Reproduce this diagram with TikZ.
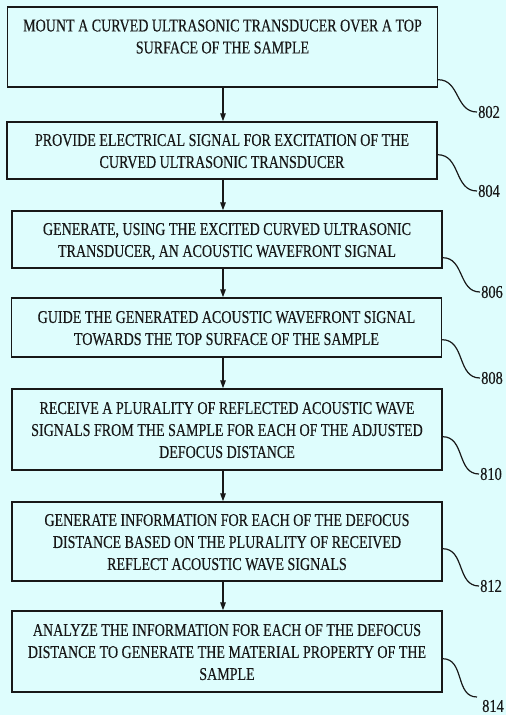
\documentclass[tikz,border=0pt]{standalone}
\usepackage{fontspec}
\setmainfont{Liberation Serif}[FakeBold=0.4]
\usepackage{graphicx}
\usepackage{tikz}
\usetikzlibrary{calc,positioning,arrows.meta}
\definecolor{bgcyan}{RGB}{222,253,253}
\definecolor{inkgray}{RGB}{24,24,24}
% narrow, centred lines as in the patent figure
\newcommand{\squeeze}[1]{\scalebox{0.78}[1]{\begin{tabular}{@{}c@{}}\rule{0pt}{19.5pt}#1\end{tabular}}}

\begin{document}
\begin{tikzpicture}[
            x=1pt, y=-1pt,
            stepbox/.style={rectangle, draw=inkgray, line width=1.4pt, fill=bgcyan, minimum width=430, inner sep=0pt, font=\fontsize{18}{22}\selectfont, text=inkgray},
            flow/.style={draw=inkgray, line width=1.3pt, -{Triangle[length=8pt,width=5.5pt]}},
            leader/.style={draw=inkgray, line width=1.2pt, out=0, in=180, looseness=1.1},
            refnum/.style={inner sep=1pt, font=\fontsize{18}{20}\selectfont, text=inkgray} % reference numerals
        ]
            \fill[bgcyan] (0,0) rectangle (506,715);
            \useasboundingbox (0,0) rectangle (506,715);
            \coordinate (spine) at (223,0);

            % The flow boxes
            \node[stepbox, minimum height=80] (mount) at (222.5,47) {\squeeze{MOUNT A CURVED ULTRASONIC TRANSDUCER OVER A TOP\\ SURFACE OF THE SAMPLE\\ \mbox{}}};
            \node[stepbox, minimum height=57] (excite) at (222,150.5) {\squeeze{PROVIDE ELECTRICAL SIGNAL FOR EXCITATION OF THE\\ CURVED ULTRASONIC TRANSDUCER}};
            \node[stepbox, minimum height=57] (wavefront) at (227,239.5) {\squeeze{GENERATE, USING THE EXCITED CURVED ULTRASONIC\\ TRANSDUCER, AN ACOUSTIC WAVEFRONT SIGNAL}};
            \node[stepbox, minimum height=59] (guide) at (226.5,327.5) {\squeeze{GUIDE THE GENERATED ACOUSTIC WAVEFRONT SIGNAL\\ TOWARDS THE TOP SURFACE OF THE SAMPLE}};
            \node[stepbox, minimum height=81] (receive) at (227,429.5) {\squeeze{RECEIVE A PLURALITY OF REFLECTED ACOUSTIC WAVE\\ SIGNALS FROM THE SAMPLE FOR EACH OF THE ADJUSTED\\ DEFOCUS DISTANCE}};
            \node[stepbox, minimum height=79] (info) at (227,541.5) {\squeeze{GENERATE INFORMATION FOR EACH OF THE DEFOCUS\\ DISTANCE BASED ON THE PLURALITY OF RECEIVED\\ REFLECT ACOUSTIC WAVE SIGNALS}};
            \node[stepbox, minimum height=81] (analyze) at (227,651.5) {\squeeze{ANALYZE THE INFORMATION FOR EACH OF THE DEFOCUS\\ DISTANCE TO GENERATE THE MATERIAL PROPERTY OF THE\\ SAMPLE}};

            % Arrows down the spine
            \draw[flow] (mount.south -| spine) -- (excite.north -| spine);
            \draw[flow] (excite.south -| spine) -- (wavefront.north -| spine);
            \draw[flow] (wavefront.south -| spine) -- (guide.north -| spine);
            \draw[flow] (guide.south -| spine) -- (receive.north -| spine);
            \draw[flow] (receive.south -| spine) -- (info.north -| spine);
            \draw[flow] (info.south -| spine) -- (analyze.north -| spine);

            % Reference numerals
            \node[refnum] (n802) at (489,112) {\scalebox{0.8}[1]{802}};
            \node[refnum] (n804) at (489,191) {\scalebox{0.8}[1]{804}};
            \node[refnum] (n806) at (492,292) {\scalebox{0.8}[1]{806}};
            \node[refnum] (n808) at (492,378) {\scalebox{0.8}[1]{808}};
            \node[refnum] (n810) at (491,474) {\scalebox{0.8}[1]{810}};
            \node[refnum] (n812) at (491,586) {\scalebox{0.8}[1]{812}};
            \node[refnum] (n814) at (493,706) {\scalebox{0.8}[1]{814}};

            \draw[leader] ($(mount.south east)+(0,-8)$) to (n802.west);
            \draw[leader] ($(excite.south east)+(0,-25)$) to (n804.west);
            \draw[leader] ($(wavefront.south east)+(0,-11)$) to (n806.west);
            \draw[leader] ($(guide.south east)+(0,-18)$) to (n808.west);
            \draw[leader] ($(receive.south east)+(0,-34)$) to (n810.west);
            \draw[leader] ($(info.south east)+(0,-33)$) to (n812.west);
            \draw[leader] ($(analyze.south east)+(0,-34)$) to ($(n814.west)+(-4,-9)$);
        \end{tikzpicture}
\end{document}
